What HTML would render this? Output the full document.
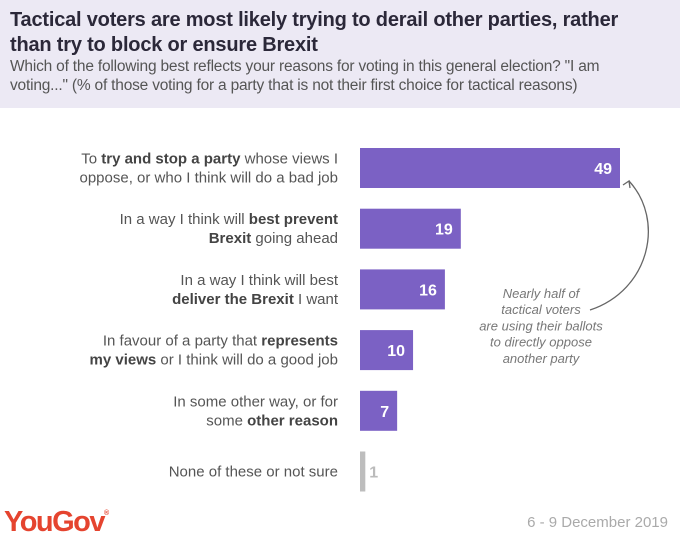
<!DOCTYPE html>
<html><head><meta charset="utf-8">
<style>
body{margin:0;width:680px;height:542px;background:#fff;font-family:"Liberation Sans",sans-serif;overflow:hidden;position:relative}
#hdr{position:absolute;left:0;top:0;width:680px;height:108px;background:#ece9f4}
#title{position:absolute;left:10px;top:8px;width:640px;font-size:20px;font-weight:bold;color:#2b2839;line-height:25px;letter-spacing:-0.2px}
#sub{position:absolute;left:10px;top:57px;width:640px;font-size:15.5px;color:#555;line-height:19px;letter-spacing:-0.2px}
svg{position:absolute;left:0;top:0}
.lbl{font-size:15px;fill:#555}
.lbl tspan.b{font-weight:bold;fill:#444}
#logo{position:absolute;left:4px;top:506px;font-size:29px;font-weight:bold;color:#e5442f;letter-spacing:-1.5px}
#logo sup{font-size:7px;letter-spacing:0;vertical-align:16px}
#date{position:absolute;right:12px;top:514px;font-size:15px;color:#aaa}
</style></head><body>
<div id="hdr"></div>
<div id="title">Tactical voters are most likely trying to derail other parties, rather than try to block or ensure Brexit</div>
<div id="sub">Which of the following best reflects your reasons for voting in this general election? "I am voting..." (% of those voting for a party that is not their first choice for tactical reasons)</div>
<svg id="chart" width="680" height="542"></svg>
<div id="logo">YouGov<sup>®</sup></div>
<div id="date">6 - 9 December 2019</div>
<script>
const labelLines=[
 [[["To ",0],["try and stop a party",1],[" whose views I",0]],[["oppose, or who I think will do a bad job",0]]],
 [[["In a way I think will ",0],["best prevent",1]],[["Brexit",1],[" going ahead",0]]],
 [[["In a way I think will best",0]],[["deliver the Brexit",1],[" I want",0]]],
 [[["In favour of a party that ",0],["represents",1]],[["my views",1],[" or I think will do a good job",0]]],
 [[["In some other way, or for",0]],[["some ",0],["other reason",1]]],
 [[["None of these or not sure",0]]]
];
const values=[49,19,16,10,7,1];
const barColors=["#7b61c4","#7b61c4","#7b61c4","#7b61c4","#7b61c4","#bdbdbd"];
const NS="http://www.w3.org/2000/svg";
const svg=document.getElementById('chart');
const x0=360, xScale=v=>v*260/49;
const yBand=i=>148+i*60.7, bh=40;
function mk(t,a){const e=document.createElementNS(NS,t);for(const k in a)e.setAttribute(k,a[k]);return e;}
values.forEach((v,i)=>{
 const y=yBand(i), w=xScale(v);
 const grey=i===5;
 const r=mk('rect',{x:x0,y:y,width:grey?Math.max(w,4):w,height:bh,fill:barColors[i]});
 
 
 svg.appendChild(r);
 const t=mk('text',{x:grey?x0+w+4:x0+w-8,y:y+bh/2+6,'text-anchor':grey?'start':'end','font-size':'16','font-weight':'bold',fill:grey?'#bbb':'#fff'});
 t.textContent=v;
 
 
 svg.appendChild(t);
 const lines=labelLines[i];
 const n=lines.length;
 lines.forEach((ln,j)=>{
  const tt=mk('text',{x:338,y:y+bh/2+5+(j-(n-1)/2)*19,'text-anchor':'end',class:'lbl'});
  
  
  ln.forEach(([s,b])=>{const sp=mk('tspan',b?{class:'b'}:{});sp.textContent=s;tt.appendChild(sp);});
  svg.appendChild(tt);
 });
});
const ann=["Nearly half of","tactical voters","are using their ballots","to directly oppose","another party"];
ann.forEach((s,j)=>{
 const t=mk('text',{x:541,y:298+j*16.2,'text-anchor':'middle','font-size':'13','font-style':'italic',fill:'#777'});
 t.textContent=s;
 
 
 svg.appendChild(t);
});
const p=mk('path',{d:'M590 310 C 650 290, 665 220, 629 181',fill:'none',stroke:'#666','stroke-width':'1.3'});


svg.appendChild(p);
const h=mk('path',{d:'M623 185 L629 181 L630 188',fill:'none',stroke:'#666','stroke-width':'1.3'});


svg.appendChild(h);
</script>
</body></html>
